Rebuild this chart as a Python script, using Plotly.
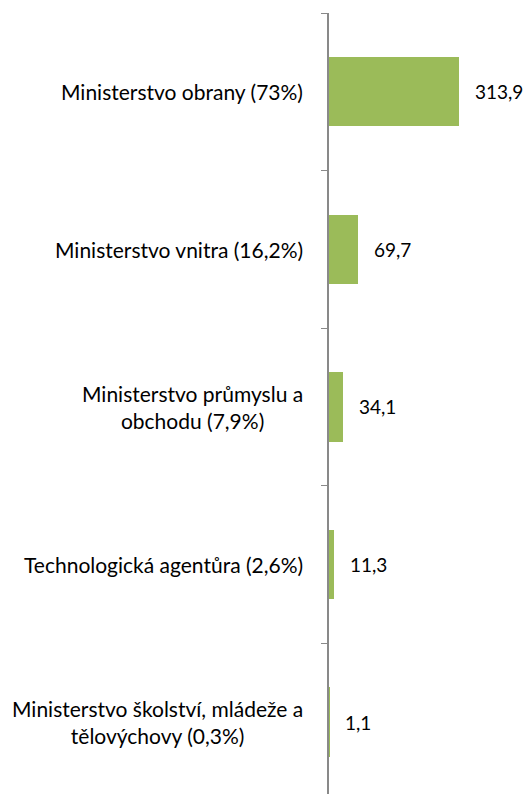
import plotly.graph_objects as go

# Data
kategorie = [
    "Ministerstvo obrany (73%)",
    "Ministerstvo vnitra (16,2%)",
    "Ministerstvo průmyslu a<br>obchodu (7,9%)",
    "Technologická agentůra (2,6%)",
    "Ministerstvo školství, mládeže a<br>tělovýchovy (0,3%)",
]
hodnoty = [313.9, 69.7, 34.1, 11.3, 1.1]

FONT = "Lato"
fig = go.Figure()
fig.add_trace(go.Bar(
    x=hodnoty, y=list(range(len(kategorie))), orientation="h",
    marker=dict(color="#9BBB59", line=dict(width=0)),
    width=0.44, hoverinfo="skip",
))

# popisky kategorii (vycentrovane, dvouradkove)
for i, k in enumerate(kategorie):
    fig.add_annotation(x=0, xref="paper", y=i, yref="y", text=k,
                       showarrow=False, xanchor="right", align="center",
                       xshift=-24, font=dict(family=FONT, size=21, color="#000000"))

# hodnoty za sloupci
for i, v in enumerate(hodnoty):
    fig.add_annotation(x=v, y=i, text=f"{v:.1f}".replace(".", ","),
                       showarrow=False, xanchor="left", xshift=14,
                       font=dict(family=FONT, size=19, color="#000000"))

# stranka ma okraj 8 px, proto je graf o 8 px mensi
fig.update_layout(
    width=523, height=786,
    margin=dict(l=321, r=0, t=5, b=0),
    plot_bgcolor="white", paper_bgcolor="white",
    showlegend=False,
    bargap=0,
)
fig.update_xaxes(range=[0, 487], visible=False, automargin=False)
fig.update_yaxes(
    type="linear", range=[4.456, -0.5], automargin=False,
    tickmode="array", tickvals=[-0.5, 0.5, 1.5, 2.5, 3.5],
    showticklabels=False, ticks="outside", ticklen=6, tickwidth=1,
    tickcolor="#898989", showline=True, linecolor="#898989", linewidth=2,
    showgrid=False, zeroline=False,
)

fig.write_html("out.html")
